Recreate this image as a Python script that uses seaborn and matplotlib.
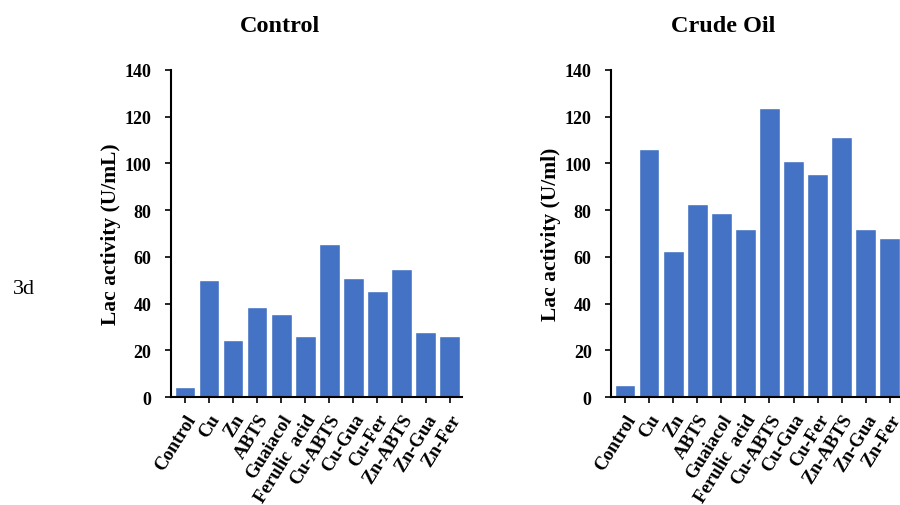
import matplotlib
matplotlib.use("Agg")
import matplotlib.pyplot as plt
import seaborn as sns
import pandas as pd

categories = ["Control", "Cu", "Zn", "ABTS", "Guaiacol", "Ferulic  acid",
              "Cu-ABTS", "Cu-Gua", "Cu-Fer", "Zn-ABTS", "Zn-Gua", "Zn-Fer"]
control_values = [4.3, 50.0, 24.3, 38.7, 35.6, 26.2, 65.3, 50.8, 45.5, 54.9, 27.9, 26.2]
crude_oil_values = [5.0, 106.3, 62.6, 82.6, 78.8, 72.1, 123.5, 100.9, 95.6, 111.3, 71.7, 68.2]
y_ticks = [0, 20, 40, 60, 80, 100, 120, 140]

sns.set_style("white")
plt.rcParams["font.family"] = ["Liberation Serif", "DejaVu Serif"]
plt.rcParams["text.color"] = "black"
plt.rcParams["axes.labelcolor"] = "black"
plt.rcParams["xtick.color"] = "black"
plt.rcParams["ytick.color"] = "black"

fig = plt.figure(figsize=(9, 5.06), dpi=100)

panels = [
    (control_values, "Control", "Lac activity (U/mL)", [0.190, 0.2134, 0.323, 0.6466], 0.375),
    (crude_oil_values, "Crude Oil", "Lac activity (U/ml)", [0.679, 0.2134, 0.323, 0.6466], 0.385),
]

for vals, title, ylabel, pos, tx in panels:
    ax = fig.add_axes(pos)
    df = pd.DataFrame({"cat": categories, "val": vals})
    sns.barplot(data=df, x="cat", y="val", ax=ax, color="#4472C4", saturation=1,
                edgecolor="white", linewidth=1.0, width=0.86)
    ax.set_ylim(0, 140)
    ax.set_xlim(-0.58, 11.5)
    ax.set_yticks(y_ticks)
    ax.set_yticklabels([str(t) for t in y_ticks], fontsize=13, fontweight="bold")
    ax.set_xticks(range(len(categories)))
    ax.set_xticklabels(categories, rotation=58, ha="right", rotation_mode="anchor",
                       fontsize=13.5, fontweight="bold")
    ax.set_xlabel("")
    ax.set_ylabel(ylabel, fontsize=15.5, fontweight="bold", labelpad=3)
    ax.set_title(title, fontsize=17.5, fontweight="bold", pad=28, x=tx)
    for s in ["top", "right"]:
        ax.spines[s].set_visible(False)
    for s in ["left", "bottom"]:
        ax.spines[s].set_color("black")
        ax.spines[s].set_linewidth(1.5)
    ax.tick_params(axis="both", which="both", direction="out", length=4, width=1.2,
                   color="black", bottom=True, left=True)
    ax.tick_params(axis="x", pad=6)
    ax.tick_params(axis="y", pad=10)

fig.text(24 / 900, 1 - 290 / 506, "3d", fontsize=16, ha="center", va="center")

fig.savefig("out.png", dpi=100)
